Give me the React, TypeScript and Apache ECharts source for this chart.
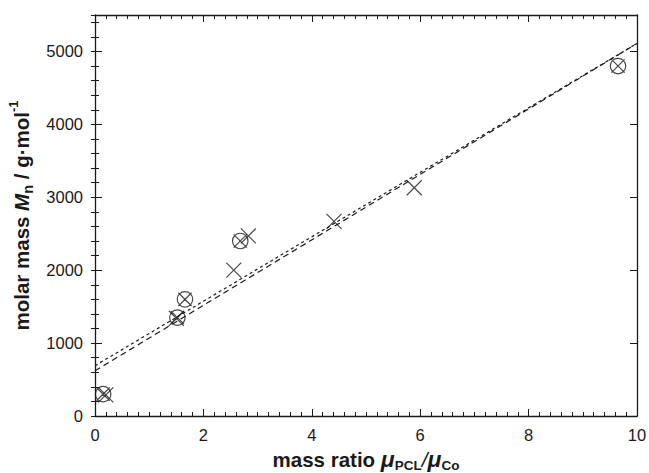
import React, { useEffect, useRef } from "react";
import * as echarts from "echarts";

// data
const circleX = [0.15, 1.52, 1.66, 2.68, 9.65];
const circleY = [300, 1350, 1600, 2400, 4800];
const crossX = [0.2, 1.5, 2.56, 2.83, 4.41, 5.89];
const crossY = [290, 1340, 2000, 2470, 2670, 3130];
const fitX = [0, 10];
const fitA = [620, 5110];
const fitB = [690, 5110];
const xTicks = [0, 2, 4, 6, 8, 10];
const yTicks = [0, 1000, 2000, 3000, 4000, 5000];

const FONT = "'Liberation Sans', Arial, Helvetica, sans-serif";
const INK = "#1a1a1a";

const CIRCLE_CROSS =
  "path://M19.5,12A7.5,7.5 0 1 1 4.5,12A7.5,7.5 0 1 1 19.5,12Z M5.6,5.6L18.4,18.4 M18.4,5.6L5.6,18.4";
const CROSS = "path://M0,0L20,20M20,0L0,20";

export default function App() {
  const ref = useRef<HTMLDivElement>(null);
  useEffect(() => {
    if (!ref.current) return;
    const chart = echarts.init(ref.current, null, { renderer: "svg" });
    const xMin = xTicks[0];
    const xMax = xTicks[xTicks.length - 1];
    const yMin = yTicks[0];
    const yMax = 5500;

    const baseX = (extra: any) => ({
      type: "value",
      min: xMin,
      max: xMax,
      interval: 2,
      axisLine: { show: true, onZero: false, lineStyle: { color: INK, width: 1.3 } },
      splitLine: { show: false },
      axisTick: { show: true, inside: true, length: 7, lineStyle: { color: INK, width: 1 } },
      minorTick: { show: true, splitNumber: 10, length: 4, lineStyle: { color: INK, width: 1 } },
      ...extra,
    });
    const baseY = (extra: any) => ({
      type: "value",
      min: yMin,
      max: yMax,
      interval: 1000,
      axisLine: { show: true, onZero: false, lineStyle: { color: INK, width: 1.3 } },
      splitLine: { show: false },
      axisTick: { show: true, inside: true, length: 7, lineStyle: { color: INK, width: 1 } },
      ...extra,
    });
    const minorY = (pos: string) => ({
      type: "value",
      position: pos,
      min: yMin,
      max: yMax,
      interval: 200,
      axisLine: { show: false },
      splitLine: { show: false },
      axisLabel: { show: false },
      axisTick: { show: true, inside: true, length: 4, lineStyle: { color: INK, width: 1 } },
    });

    chart.setOption({
      animation: false,
      backgroundColor: "#ffffff",
      grid: { left: 95, right: 12, top: 15, bottom: 57, containLabel: false, outerBoundsMode: "none" },
      xAxis: [
        baseX({
          position: "bottom",
          axisLabel: {
            show: true,
            color: INK,
            fontFamily: FONT,
            fontSize: 16.5,
            margin: 10,
            formatter: (v: number) => (xTicks.includes(v) ? String(v) : ""),
          },
          name: "{b|mass ratio }{mu|μ}{sub|PCL}{sl|/}{mu|μ}{sub|Co}",
          nameLocation: "middle",
          nameGap: 29,
          nameTextStyle: {
            rich: {
              b: { fontFamily: FONT, fontSize: 20.5, fontWeight: "bold", color: INK, lineHeight: 26, verticalAlign: "middle" },
              mu: { fontFamily: FONT, fontSize: 23, fontStyle: "italic", fontWeight: "bold", color: INK, lineHeight: 26, verticalAlign: "middle" },
              sl: { fontFamily: FONT, fontSize: 21, fontStyle: "italic", color: INK, lineHeight: 26, verticalAlign: "middle" },
              sub: { fontFamily: FONT, fontSize: 13.5, fontWeight: "bold", color: INK, lineHeight: 19, verticalAlign: "bottom" },
            },
          },
        }),
        baseX({ position: "top", axisLabel: { show: false } }),
      ],
      yAxis: [
        baseY({
          position: "left",
          axisLabel: {
            show: true,
            color: INK,
            fontFamily: FONT,
            fontSize: 16.5,
            margin: 12,
            formatter: (v: number) => (yTicks.includes(v) ? String(v) : ""),
          },
          name: "{b|molar mass }{i|M}{sub|n}{b| / g·mol}{sup|-1}",
          nameLocation: "middle",
          nameRotate: 90,
          nameGap: 49,
          nameTextStyle: {
            rich: {
              b: { fontFamily: FONT, fontSize: 20.5, fontWeight: "bold", color: INK, lineHeight: 28, verticalAlign: "middle" },
              i: { fontFamily: FONT, fontSize: 20.5, fontWeight: "bold", fontStyle: "italic", color: INK, lineHeight: 28, verticalAlign: "middle" },
              sub: { fontFamily: FONT, fontSize: 14.5, fontWeight: "bold", color: INK, lineHeight: 15, verticalAlign: "bottom" },
              sup: { fontFamily: FONT, fontSize: 13, fontWeight: "bold", color: INK, lineHeight: 14, verticalAlign: "top" },
            },
          },
        }),
        baseY({ position: "right", axisLabel: { show: false } }),
        minorY("left"),
        minorY("right"),
      ],
      series: [
        {
          type: "line",
          data: fitX.map((x, i) => [x, fitA[i]]),
          showSymbol: false,
          symbol: "none",
          lineStyle: { color: INK, width: 1.2, type: [6, 4] },
          z: 2,
        },
        {
          type: "line",
          data: fitX.map((x, i) => [x, fitB[i]]),
          showSymbol: false,
          symbol: "none",
          lineStyle: { color: INK, width: 1.2, type: [3, 3] },
          z: 2,
        },
        {
          type: "scatter",
          data: circleX.map((x, i) => [x, circleY[i]]),
          symbol: CIRCLE_CROSS,
          symbolSize: 15.5,
          itemStyle: { color: "rgba(0,0,0,0)", borderColor: INK, borderWidth: 1.2 },
          z: 3,
        },
        {
          type: "scatter",
          data: crossX.map((x, i) => [x, crossY[i]]),
          symbol: CROSS,
          symbolSize: 15,
          itemStyle: { color: "rgba(0,0,0,0)", borderColor: INK, borderWidth: 1.2 },
          z: 3,
        },
      ],
    });
    return () => chart.dispose();
  }, []);
  return <div ref={ref} style={{ width: 649, height: 473, position: "absolute", left: 0, top: 0 }} />;
}
